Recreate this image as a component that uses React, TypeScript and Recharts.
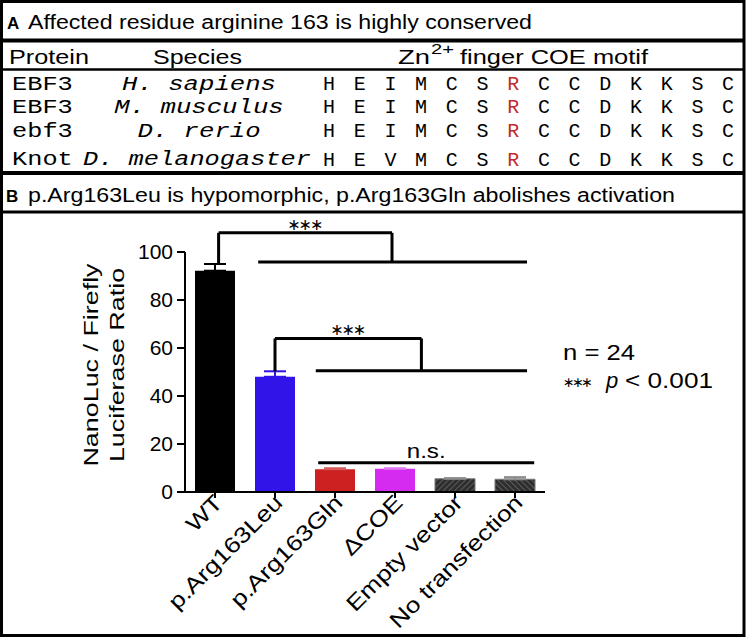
import React from 'react'
import { BarChart, Bar, XAxis, YAxis, Cell, ErrorBar, ReferenceLine, Label } from 'recharts'

const SANS = '"Liberation Sans", Arial, sans-serif'
const MONO = '"Liberation Mono", "Courier New", monospace'
const STAR_FONT = '"DejaVu Sans", sans-serif'

// Panel A: sequence alignment
const proteins = ['EBF3', 'EBF3', 'ebf3', 'Knot']
const species = ['H. sapiens', 'M. musculus', 'D. rerio', 'D. melanogaster']
const motifs = ['HEIMCSRCCDKKSC', 'HEIMCSRCCDKKSC', 'HEIMCSRCCDKKSC', 'HEVMCSRCCDKKSC']
const conservedIndex = 6

// Panel B: luciferase assay
const categories = ['WT', 'p.Arg163Leu', 'p.Arg163Gln', 'ΔCOE', 'Empty vector', 'No transfection']
const ratios = [92.2, 48.0, 9.5, 9.7, 5.5, 5.3]
const sems = [2.8, 2.3, 0.4, 0.2, 0.3, 0.9]
const barFills = ['#000000', '#3114e8', '#cd2121', '#d52bf0', 'url(#hatchUp)', 'url(#hatchDown)']
const errColors = ['#000000', '#3114e8', '#d85a5a', '#e07cf3', '#8c8c8c', '#8c8c8c']
const yTicks = [0, 20, 40, 60, 80, 100]

// significance brackets (x in category index units, y in ratio units)
const brackets = [
  { fromX: 0.06, fromY: 95, toX: 2.95, topY: 108, groupY: 95.8, groupFrom: 0.72, groupTo: 5.2 },
  { fromX: 1, fromY: 50.3, toX: 3.44, topY: 64, groupY: 50.5, groupFrom: 1.68, groupTo: 5.2 },
]
const nsLine = { from: 1.72, to: 5.32, y: 12.2 }

const errKeys = Array.from(new Set(errColors))
const data = categories.map((name, i) => {
  const row: any = { idx: i, name, ratio: ratios[i] }
  errKeys.forEach((c, k) => {
    if (errColors[i] === c) row['err' + k] = [0, sems[i]]
  })
  return row
})

function CategoryTick({ x, y, payload }: any) {
  return (
    <g transform={`translate(${x + 9},${y + 4}) rotate(-45)`}>
      <text x={0} y={0} textAnchor="end" fontSize={22} fontFamily={SANS} fill="#000" transform="scale(1.2,1)">
        {categories[payload.value]}
      </text>
    </g>
  )
}

function YTitle({ viewBox }: any) {
  const cy = viewBox.y + viewBox.height / 2 - 7
  const x1 = viewBox.x - 27
  const x2 = viewBox.x - 1
  return (
    <g fontFamily={SANS} fontSize={21} fill="#000">
      <text transform={`translate(${x1},${cy}) rotate(-90) scale(1.28,1)`} textAnchor="middle">NanoLuc / Firefly</text>
      <text transform={`translate(${x2},${cy}) rotate(-90) scale(1.28,1)`} textAnchor="middle">Luciferase Ratio</text>
    </g>
  )
}

function Stars(props: any) {
  const vb = props.viewBox
  const cx = vb.x + vb.width / 2
  return (
    <text x={cx - 18} y={vb.y - 3} fontSize={16} fontFamily={STAR_FONT} fill="#000"
      textLength={36} lengthAdjust="spacing">
      ∗∗∗
    </text>
  )
}

function NsLabel(props: any) {
  const vb = props.viewBox
  const cx = vb.x + vb.width / 2
  return (
    <text x={cx} y={vb.y - 5} textAnchor="middle" fontSize={21} fontFamily={SANS} fill="#000"
      transform={`translate(${cx},0) scale(1.15,1) translate(${-cx},0)`}>
      n.s.
    </text>
  )
}

function PanelA() {
  const rowY = [90, 113, 137, 165]
  const seqX0 = 329
  const seqStep = 30.7
  return (
    <svg width={747} height={640} style={{ position: 'absolute', left: 0, top: 0 }}>
      <rect x={1.5} y={1.5} width={742.5} height={634} fill="#fff" stroke="#000" strokeWidth={3} />
      <line x1={0} x2={745} y1={40.5} y2={40.5} stroke="#000" strokeWidth={4} />
      <line x1={0} x2={745} y1={69.5} y2={69.5} stroke="#000" strokeWidth={2.5} />
      <line x1={0} x2={745} y1={173} y2={173} stroke="#000" strokeWidth={4} />
      <line x1={0} x2={745} y1={212} y2={212} stroke="#000" strokeWidth={3} />

      <text x={7} y={29} fontFamily={SANS} fontWeight={700} fontSize={17}>A</text>
      <text x={28} y={29} fontFamily={SANS} fontSize={20} textLength={504} lengthAdjust="spacingAndGlyphs">
        Affected residue arginine 163 is highly conserved
      </text>

      <text x={9} y={64} fontFamily={SANS} fontSize={21} textLength={80} lengthAdjust="spacingAndGlyphs">Protein</text>
      <text x={153} y={64} fontFamily={SANS} fontSize={21} textLength={89} lengthAdjust="spacingAndGlyphs">Species</text>
      <text x={398} y={64} fontFamily={SANS} fontSize={21} textLength={32} lengthAdjust="spacingAndGlyphs">Zn</text>
      <text x={431} y={54} fontFamily={SANS} fontSize={15} textLength={23} lengthAdjust="spacingAndGlyphs">2+</text>
      <text x={460} y={64} fontFamily={SANS} fontSize={21} textLength={188} lengthAdjust="spacingAndGlyphs">finger COE motif</text>

      {proteins.map((p, r) => (
        <g key={r} fontFamily={MONO} fontSize={20} fill="#000">
          <text x={12} y={rowY[r]} textLength={p.length * 15.2} lengthAdjust="spacingAndGlyphs">{p}</text>
          {r < 3 ? (
            <text x={199} y={rowY[r]} textAnchor="middle" fontStyle="italic" textLength={species[r].length * 15.4} lengthAdjust="spacingAndGlyphs">
              {species[r]}
            </text>
          ) : (
            <text x={83} y={rowY[r]} fontStyle="italic" textLength={species[r].length * 15.2} lengthAdjust="spacingAndGlyphs">
              {species[r]}
            </text>
          )}
          {motifs[r].split('').map((aa, i) => (
            <text key={i} x={seqX0 + seqStep * i} y={rowY[r] + (r === 3 ? 1 : 0)} textAnchor="middle"
              fill={i === conservedIndex ? '#c42a2a' : '#000'}>
              {aa}
            </text>
          ))}
        </g>
      ))}

      <text x={6} y={202} fontFamily={SANS} fontWeight={700} fontSize={17}>B</text>
      <text x={28} y={202} fontFamily={SANS} fontSize={20} textLength={647} lengthAdjust="spacingAndGlyphs">
        p.Arg163Leu is hypomorphic, p.Arg163Gln abolishes activation
      </text>

      <text x={563} y={360} fontFamily={SANS} fontSize={22} textLength={72} lengthAdjust="spacingAndGlyphs">n = 24</text>
      <text x={563} y={387} fontFamily={STAR_FONT} fontSize={14} textLength={30} lengthAdjust="spacing">∗∗∗</text>
      <text x={606} y={388} fontFamily={SANS} fontSize={22} fontStyle="italic">p</text>
      <text x={625} y={388} fontFamily={SANS} fontSize={22} textLength={88} lengthAdjust="spacingAndGlyphs">&lt; 0.001</text>
    </svg>
  )
}

export default function App() {
  return (
    <div style={{ position: 'absolute', left: 0, top: 0, width: 747, height: 640, background: '#fff' }}>
      <PanelA />
      <div style={{ position: 'absolute', left: 0, top: 0 }}>
        <BarChart width={747} height={640} data={data} margin={{ top: 252, right: 202, bottom: 48, left: 125 }}>
          <defs>
            <pattern id="hatchUp" patternUnits="userSpaceOnUse" width={4} height={4} patternTransform="rotate(45)">
              <rect width={4} height={4} fill="#2e2e2e" />
              <line x1={0} y1={0} x2={0} y2={4} stroke="#6a6a6a" strokeWidth={1.5} />
            </pattern>
            <pattern id="hatchDown" patternUnits="userSpaceOnUse" width={4} height={4} patternTransform="rotate(-45)">
              <rect width={4} height={4} fill="#2e2e2e" />
              <line x1={0} y1={0} x2={0} y2={4} stroke="#6a6a6a" strokeWidth={1.5} />
            </pattern>
          </defs>
          <XAxis
            dataKey="idx"
            type="number"
            domain={[-0.5, 5.5]}
            ticks={[0, 1, 2, 3, 4, 5]}
            interval={0}
            height={100}
            axisLine={{ stroke: '#000', strokeWidth: 2 }}
            tickLine={{ stroke: '#000', strokeWidth: 2 }}
            tickSize={6}
            tick={<CategoryTick />}
          />
          <YAxis
            domain={[0, 100]}
            ticks={yTicks}
            width={60}
            axisLine={{ stroke: '#000', strokeWidth: 2 }}
            tickLine={{ stroke: '#000', strokeWidth: 2 }}
            tickSize={8}
            tickMargin={4}
            tick={{ fill: '#000', fontSize: 21, fontFamily: SANS }}
            label={<Label content={<YTitle />} />}
          />
          <Bar dataKey="ratio" barSize={40} isAnimationActive={false}>
            {data.map((d, i) => (
              <Cell key={i} fill={barFills[i]} stroke={i > 3 ? '#777' : 'none'} strokeWidth={1} />
            ))}
            {errKeys.map((c, k) => (
              <ErrorBar key={k} dataKey={'err' + k} stroke={c} strokeWidth={2} width={11} direction="y" isAnimationActive={false} />
            ))}
          </Bar>

          {brackets.map((b, i) => (
            <ReferenceLine key={'l' + i} ifOverflow="visible" stroke="#000" strokeWidth={3}
              segment={[{ x: b.fromX, y: b.fromY }, { x: b.fromX, y: b.topY }]} />
          ))}
          {brackets.map((b, i) => (
            <ReferenceLine key={'t' + i} ifOverflow="visible" stroke="#000" strokeWidth={3}
              segment={[{ x: b.fromX, y: b.topY }, { x: b.toX, y: b.topY }]}>
              <Label content={<Stars />} />
            </ReferenceLine>
          ))}
          {brackets.map((b, i) => (
            <ReferenceLine key={'r' + i} ifOverflow="visible" stroke="#000" strokeWidth={3}
              segment={[{ x: b.toX, y: b.topY }, { x: b.toX, y: b.groupY }]} />
          ))}
          {brackets.map((b, i) => (
            <ReferenceLine key={'g' + i} ifOverflow="visible" stroke="#000" strokeWidth={3}
              segment={[{ x: b.groupFrom, y: b.groupY }, { x: b.groupTo, y: b.groupY }]} />
          ))}
          <ReferenceLine ifOverflow="visible" stroke="#000" strokeWidth={3}
            segment={[{ x: nsLine.from, y: nsLine.y }, { x: nsLine.to, y: nsLine.y }]}>
            <Label content={<NsLabel />} />
          </ReferenceLine>
        </BarChart>
      </div>
    </div>
  )
}
